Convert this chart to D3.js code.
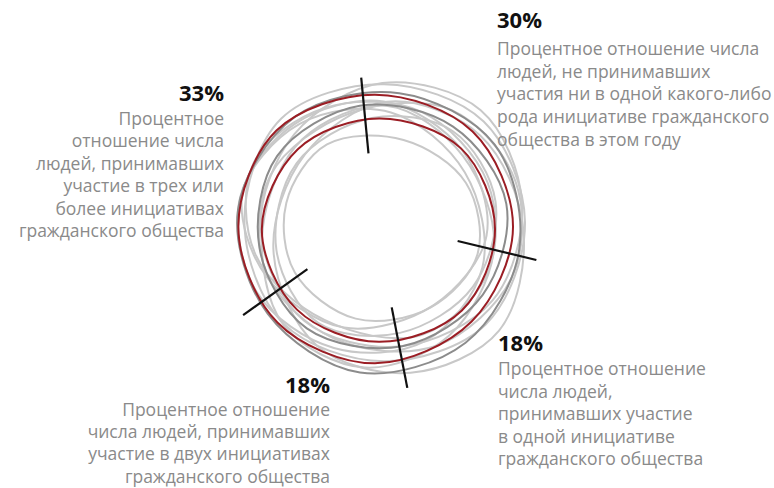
<!DOCTYPE html>
<html>
<head>
<meta charset="utf-8">
<script src="https://cdn.jsdelivr.net/npm/d3@7"></script>
<style>
  html, body { margin: 0; padding: 0; background: #fff; }
  svg { display: block; }
  .pct { font-family: "Open Sans", "Noto Sans", sans-serif; font-weight: 700; fill: #111; }
  .desc { font-family: "Open Sans", "Noto Sans", sans-serif; fill: #8a8a8a; }
</style>
</head>
<body>
<svg id="chart" width="774" height="488"></svg>
<script>
// ---------- DATA ----------
const categories = [
  "Не принимали участия",
  "Одна инициатива",
  "Две инициативы",
  "Три или более инициатив"
];
const values = [30, 18, 18, 33];
const percentLabels = ["30%", "18%", "18%", "33%"];
const descriptions = [
  ["Процентное отношение числа", "людей, не принимавших", "участия ни в одной какого-либо", "рода инициативе гражданского", "общества в этом году"],
  ["Процентное отношение", "числа людей,", "принимавших участие", "в одной инициативе", "гражданского общества"],
  ["Процентное отношение", "числа людей, принимавших", "участие в двух инициативах", "гражданского общества"],
  ["Процентное", "отношение числа", "людей, принимавших", "участие в трех или", "более инициативах", "гражданского общества"]
];

// ---------- LAYOUT / STYLE ----------
const W = 774, H = 488;
const center = { x: 375, y: 221 };
const startDeg = -5.5;
const dividerExtent = [[68, 144], [85, 166], [88, 170], [83, 162]];
const labelLayout = [
  { x: 497, title: 28,  first: 55,  step: 22.7, anchor: "start" },
  { x: 498, title: 351, first: 375, step: 22.5, anchor: "start" },
  { x: 330, title: 393, first: 416, step: 22.2, anchor: "end" },
  { x: 224, title: 101, first: 125, step: 22.4, anchor: "end" }
];
// decorative hand-drawn loops: centre, radii, rotation, wobble, colour
const loops = [
  { cx: 384, cy: 222, rx: 141, ry: 142, rot: 0,   w: [1.00, 1.02, 0.98, 1.01, 0.99, 1.03, 0.97, 1.00], c: "#c8c8c8" },
  { cx: 364, cy: 214, rx: 122, ry: 112, rot: 10,  w: [1.02, 0.98, 1.03, 0.99, 1.01, 0.97, 1.02, 1.00], c: "#c8c8c8" },
  { cx: 399, cy: 240, rx: 126, ry: 136, rot: -5,  w: [0.99, 1.03, 0.98, 1.02, 1.00, 0.97, 1.02, 1.01], c: "#c8c8c8" },
  { cx: 380, cy: 228, rx: 100, ry: 92,  rot: 15,  w: [1.01, 0.98, 1.02, 1.00, 0.97, 1.03, 0.99, 1.01], c: "#c8c8c8" },
  { cx: 372, cy: 218, rx: 128, ry: 116, rot: 25,  w: [1.00, 1.04, 0.97, 1.00, 1.02, 0.98, 1.01, 0.99], c: "#c8c8c8" },
  { cx: 392, cy: 226, rx: 134, ry: 124, rot: -20, w: [0.98, 1.01, 1.03, 0.98, 1.00, 1.02, 0.97, 1.01], c: "#c8c8c8" },
  { cx: 376, cy: 238, rx: 116, ry: 130, rot: 5,   w: [1.02, 0.99, 1.00, 1.03, 0.98, 1.00, 1.02, 0.97], c: "#c8c8c8" },
  { cx: 386, cy: 226, rx: 106, ry: 116, rot: 35,  w: [1.00, 0.97, 1.02, 1.01, 1.03, 0.98, 1.00, 1.01], c: "#c8c8c8" },
  { cx: 362, cy: 232, rx: 120, ry: 126, rot: -30, w: [0.99, 1.02, 1.00, 0.97, 1.01, 1.03, 0.99, 1.00], c: "#c8c8c8" },
  { cx: 392, cy: 216, rx: 130, ry: 134, rot: 40,  w: [1.01, 0.99, 1.02, 1.00, 0.98, 1.01, 1.03, 0.99], c: "#c8c8c8" },
  { cx: 380, cy: 230, rx: 142, ry: 141, rot: 8,   w: [0.99, 1.00, 1.02, 0.99, 1.01, 1.00, 0.98, 1.01], c: "#8c8c8c" },
  { cx: 381, cy: 226, rx: 126, ry: 122, rot: -10, w: [1.01, 0.99, 1.00, 1.02, 0.98, 1.01, 1.00, 0.99], c: "#8c8c8c" },
  { cx: 375, cy: 227, rx: 138, ry: 135, rot: 0,   w: [1.00, 0.99, 1.01, 1.00, 0.99, 1.01, 0.98, 1.00], c: "#9b1d24" },
  { cx: 379, cy: 229, rx: 116, ry: 114, rot: 0,   w: [1.00, 1.01, 0.99, 1.00, 1.01, 0.99, 0.97, 1.00], c: "#9b1d24" }
];

const svg = d3.select("#chart");
const rad = d => d * Math.PI / 180;

// ---------- LOOPS ----------
const loopLine = d3.line().x(p => p[0]).y(p => p[1]).curve(d3.curveCatmullRomClosed.alpha(0.5));
const angleScale = d3.scaleLinear().domain([0, 8]).range([0, 2 * Math.PI]);
svg.append("g").selectAll("path").data(loops).join("path")
  .attr("d", L => {
    const r = rad(L.rot);
    const pts = L.w.map((k, i) => {
      const t = angleScale(i);
      const ex = L.rx * k * Math.cos(t), ey = L.ry * k * Math.sin(t);
      return [L.cx + ex * Math.cos(r) - ey * Math.sin(r), L.cy + ex * Math.sin(r) + ey * Math.cos(r)];
    });
    return loopLine(pts);
  })
  .attr("fill", "none")
  .attr("stroke", L => L.c)
  .attr("stroke-width", 2);

// ---------- DIVIDERS (pie boundaries) ----------
const pie = d3.pie().sort(null).value(d => d)
  .startAngle(rad(startDeg)).endAngle(rad(startDeg + 360));
const arcs = pie(values);
svg.append("g").selectAll("line").data(arcs).join("line")
  .attr("x1", (d, i) => center.x + dividerExtent[i][0] * Math.sin(d.startAngle))
  .attr("y1", (d, i) => center.y - dividerExtent[i][0] * Math.cos(d.startAngle))
  .attr("x2", (d, i) => center.x + dividerExtent[i][1] * Math.sin(d.startAngle))
  .attr("y2", (d, i) => center.y - dividerExtent[i][1] * Math.cos(d.startAngle))
  .attr("stroke", "#111")
  .attr("stroke-width", 2.2);

// ---------- LABELS ----------
const labels = svg.append("g").selectAll("g").data(arcs).join("g");
labels.append("text")
  .attr("class", "pct")
  .attr("x", (d, i) => labelLayout[i].x)
  .attr("y", (d, i) => labelLayout[i].title)
  .attr("text-anchor", (d, i) => labelLayout[i].anchor)
  .attr("font-size", 22)
  .text((d, i) => percentLabels[i]);
labels.each(function(d, i) {
  const g = d3.select(this), lay = labelLayout[i];
  g.selectAll("text.desc").data(descriptions[i]).join("text")
    .attr("class", "desc")
    .attr("x", lay.x)
    .attr("y", (s, j) => lay.first + j * lay.step)
    .attr("text-anchor", lay.anchor)
    .attr("font-size", 17.5)
    .text(s => s);
});
</script>
</body>
</html>
